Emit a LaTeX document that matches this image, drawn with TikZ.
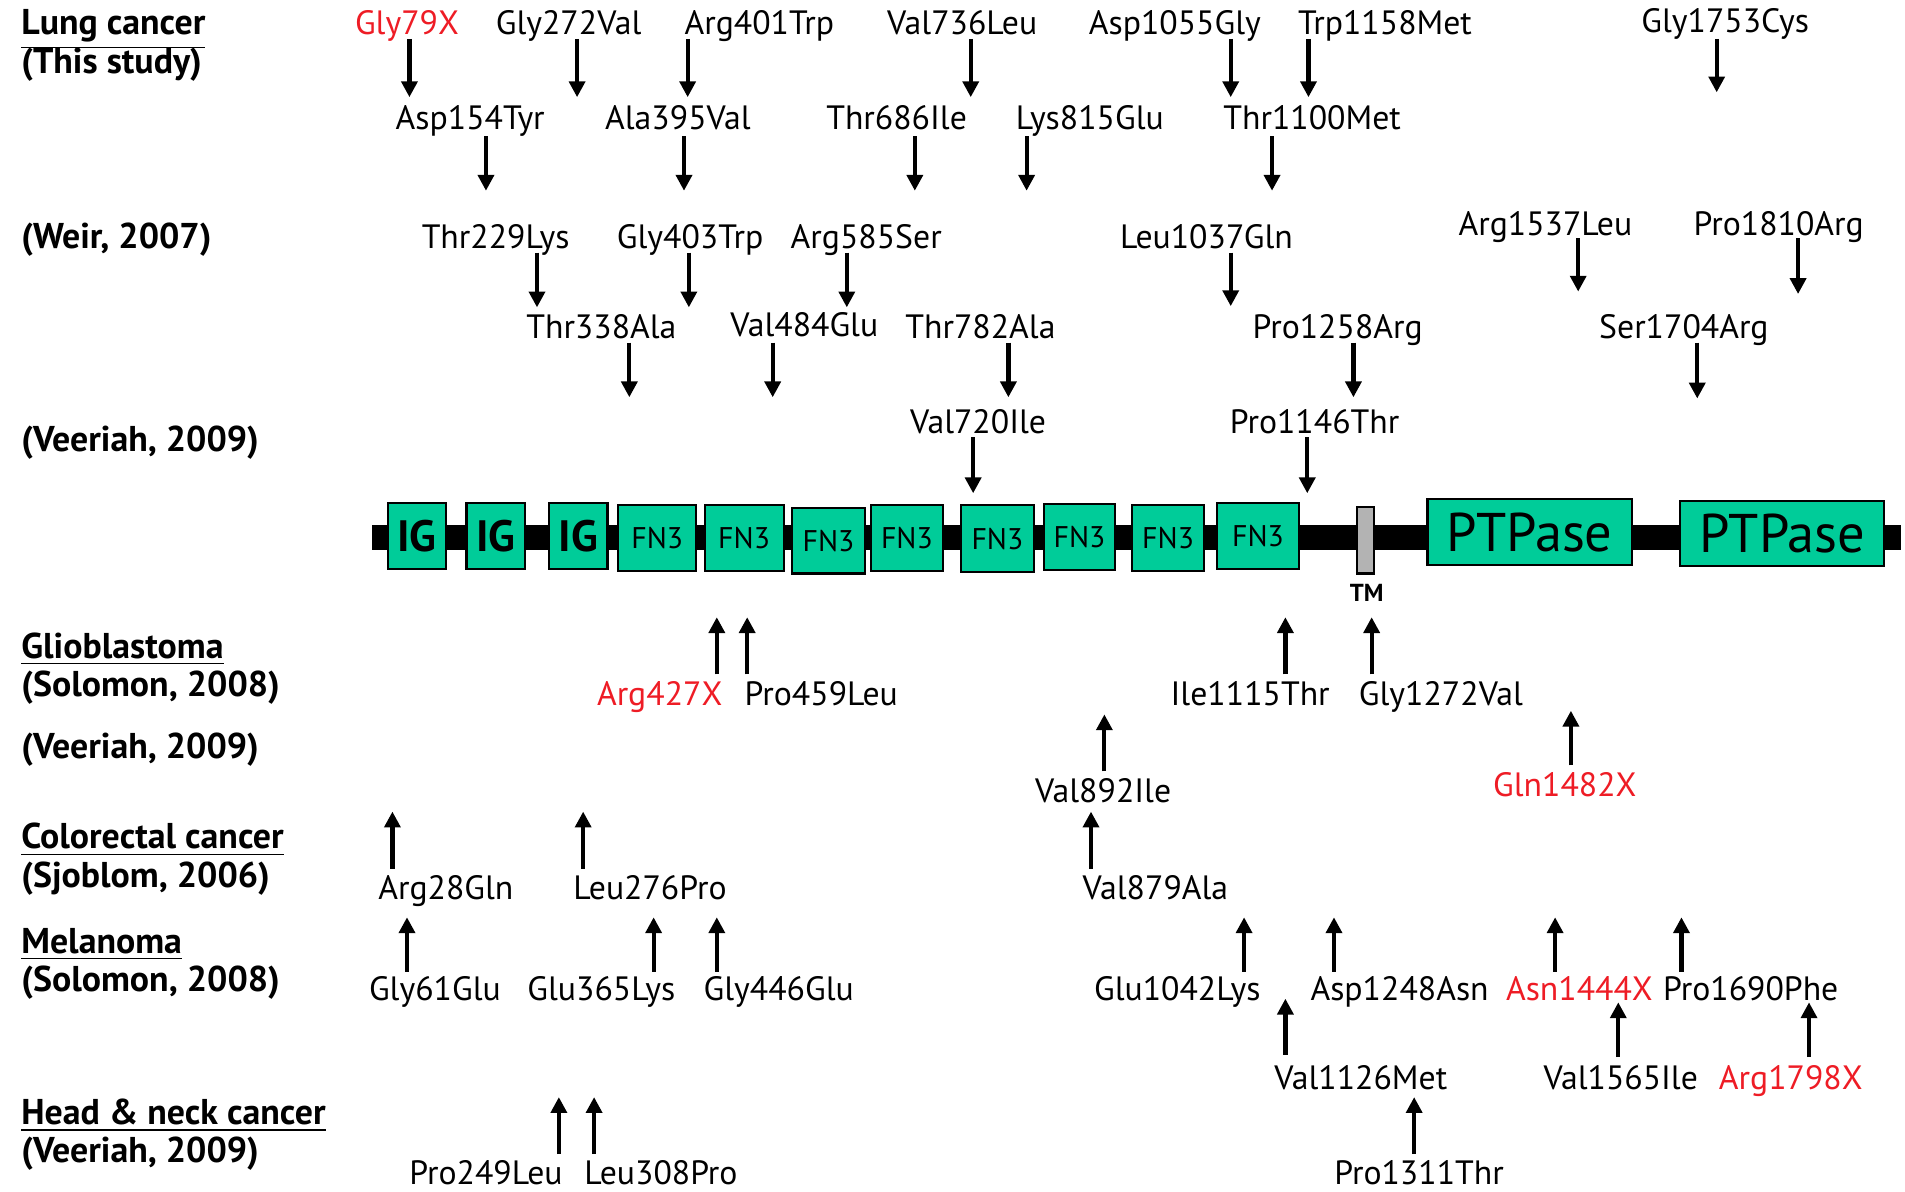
\documentclass[tikz,border=0pt]{standalone}
\usepackage{fontspec}
\setmainfont{PT Sans}
\usetikzlibrary{arrows.meta}
\definecolor{domgreen}{HTML}{00CC99}
\definecolor{mutred}{HTML}{EE1C25}
\definecolor{tmgray}{HTML}{B3B3B3}

\begin{document}
\begin{tikzpicture}[x=0.12149mm, y=-0.12149mm,
  mut/.style={font=\fontsize{9.6}{11}\selectfont, inner sep=0pt, anchor=base, yshift=-3pt},
  xmut/.style={mut, text=mutred},
  src/.style={font=\fontsize{10.2}{12}\selectfont\bfseries, inner sep=0pt, anchor=base west, yshift=-3pt},
  dn/.style={-{Triangle[width=4.5pt,length=4.5pt]}, line width=1.2pt},
  dom/.style={fill=domgreen, draw=black, line width=0.6pt},
]
\useasboundingbox (0,0) rectangle (1568,981);

% study labels
\node[src] (lung)   at (17,20)  {\underline{Lung cancer}};
\node[src] (thiss)  at (17,52)  {(This study)};
\node[src] (weir)   at (17,196) {(Weir, 2007)};
\node[src] (veer1)  at (17,363) {(Veeriah, 2009)};
\node[src] (glio)   at (17,533) {\underline{Glioblastoma}};
\node[src] (solo1)  at (17,565) {(Solomon, 2008)};
\node[src] (veer2)  at (17,616) {(Veeriah, 2009)};
\node[src] (colo)   at (17,690) {\underline{Colorectal cancer}};
\node[src] (sjob)   at (17,722) {(Sjoblom, 2006)};
\node[src] (mela)   at (17,776) {\underline{Melanoma}};
\node[src] (solo2)  at (17,807) {(Solomon, 2008)};
\node[src] (headn)  at (17,917) {\underline{Head \& neck cancer}};
\node[src] (veer3)  at (17,948) {(Veeriah, 2009)};

% protein backbone and domains
\fill[black] (306,432) rectangle (1565,453);
\foreach \xa/\xb [count=\i] in {319/367, 384/432, 452/500} {
  \draw[dom] (\xa,414) rectangle (\xb,468);
  \node[font=\fontsize{12.5}{14}\selectfont\bfseries, inner sep=0pt] (ig\i) at ({(\xa+\xb)/2},441) {IG};
}
\foreach \xa/\xb/\ya/\yb [count=\i] in {509/573/416/470, 580/645/416/470, 652/712/418/472,
    717/776/416/470, 791/851/416/471, 859/918/415/469, 932/991/416/470, 1002/1069/414/468} {
  \draw[dom] (\xa,\ya) rectangle (\xb,\yb);
  \node[font=\fontsize{8.5}{10}\selectfont, inner sep=0pt] (fn\i) at ({(\xa+\xb)/2},{(\ya+\yb)/2}) {FN3};
}
\draw[fill=tmgray, draw=black, line width=0.6pt] (1117,417) rectangle (1131,472);
\node[font=\fontsize{7}{8}\selectfont\bfseries, inner sep=0pt] (tm) at (1125,488) {TM};
\foreach \xa/\xb/\ya/\yb [count=\i] in {1175/1343/411/465, 1383/1551/412/466} {
  \draw[dom] (\xa,\ya) rectangle (\xb,\yb);
  \node[font=\fontsize{15.5}{17}\selectfont, inner sep=0pt] (ptp\i) at ({(\xa+\xb)/2},{(\ya+\yb)/2}) {PTPase};
}

% mutations above the protein
\foreach \n/\x/\y/\t in {gly272/468/20/Gly272Val, arg401/625/20/Arg401Trp, val736/792/20/Val736Leu,
    asp1055/967/20/Asp1055Gly, trp1158/1140/20/Trp1158Met, gly1753/1420/18/Gly1753Cys,
    asp154/387/98/Asp154Tyr, ala395/558/98/Ala395Val, thr686/738/98/Thr686Ile,
    lys815/897/98/Lys815Glu, thr1100/1080/98/Thr1100Met,
    thr229/408/196/Thr229Lys, gly403/568/196/Gly403Trp, arg585/713/196/Arg585Ser,
    leu1037/993/196/Leu1037Gln, arg1537/1272/185/Arg1537Leu, pro1810/1464/185/Pro1810Arg,
    thr338/495/270/Thr338Ala, val484/662/268/Val484Glu, thr782/807/270/Thr782Ala,
    pro1258/1101/270/Pro1258Arg, ser1704/1386/270/Ser1704Arg,
    val720/805/348/Val720Ile, pro1146/1082/348/Pro1146Thr}
  \node[mut] (\n) at (\x,\y) {\t};
\node[xmut] (gly79) at (335,20) {Gly79X};

\foreach \x/\ya/\yb [count=\i] in {337/32/80, 475/32/80, 566/32/80, 799/32/80, 1013/32/80,
    1077/32/80, 1413/32/76, 400/112/157, 563/112/157, 753/112/157, 845/112/157, 1047/112/157,
    442/208/253, 567/208/253, 697/208/253, 1013/208/252, 1299/196/240, 1480/196/242,
    518/282/327, 636/282/327, 830/282/327, 1114/282/327, 1397/282/328,
    801/360/406, 1076/360/406} {
  \coordinate (dn\i a) at (\x,\ya);
  \coordinate (dn\i b) at (\x,\yb);
  \draw[dn] (dn\i a) -- (dn\i b);
}

% mutations below the protein
\foreach \n/\x/\y/\t in {pro459/676/572/Pro459Leu, ile1115/1029/572/Ile1115Thr, gly1272/1186/572/Gly1272Val,
    val892/908/652/Val892Ile,
    arg28/367/732/Arg28Gln, leu276/535/732/Leu276Pro, val879/951/732/Val879Ala,
    gly61/358/815/Gly61Glu, glu365/495/815/Glu365Lys, gly446/641/815/Gly446Glu,
    glu1042/969/815/Glu1042Lys, asp1248/1152/815/Asp1248Asn, pro1690/1441/815/Pro1690Phe,
    val1126/1120/888/Val1126Met, val1565/1334/888/Val1565Ile,
    pro249/400/966/Pro249Leu, leu308/544/966/Leu308Pro, pro1311/1168/966/Pro1311Thr}
  \node[mut] (\n) at (\x,\y) {\t};
\foreach \n/\x/\y/\t in {arg427/543/572/Arg427X, gln1482/1288/647/Gln1482X,
    asn1444/1300/815/Asn1444X, arg1798/1474/888/Arg1798X}
  \node[xmut] (\n) at (\x,\y) {\t};

\foreach \x/\ya/\yb [count=\i] in {590/555/508, 615/555/508, 1058/555/508, 1129/555/508,
    909/635/588, 1293/630/585, 323/715/668, 480/715/668, 898/715/668,
    335/800/755, 538/800/755, 590/800/755, 1024/800/755, 1098/800/755, 1280/800/755, 1384/800/755,
    1058/868/822, 1332/870/825, 1489/870/825, 460/950/903, 489/950/903, 1164/950/903} {
  \coordinate (up\i a) at (\x,\ya);
  \coordinate (up\i b) at (\x,\yb);
  \draw[dn] (up\i a) -- (up\i b);
}
\end{tikzpicture}
\end{document}
